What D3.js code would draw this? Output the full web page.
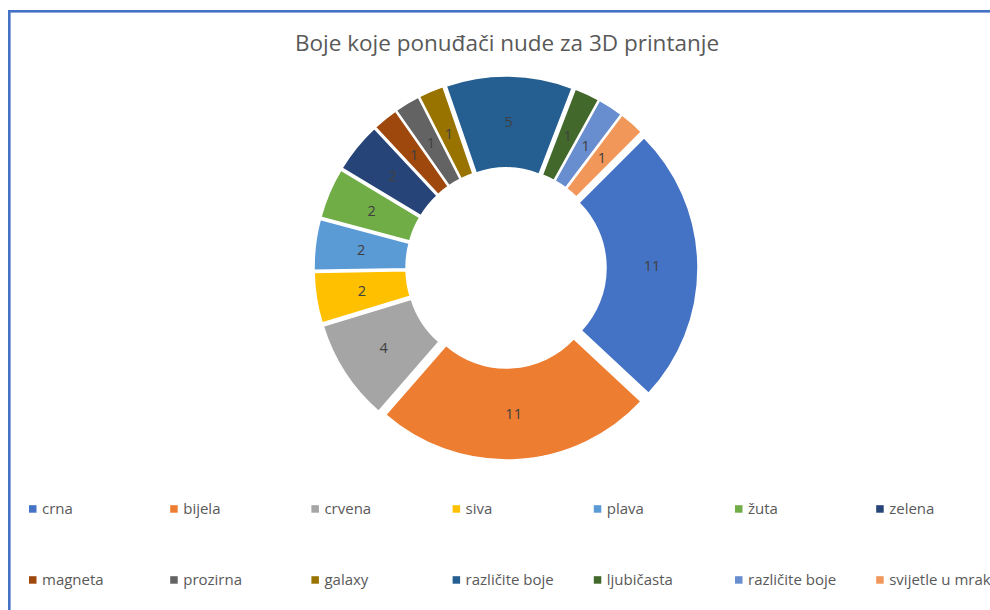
<!DOCTYPE html>
<html>
<head>
<meta charset="utf-8">
<script src="https://cdn.jsdelivr.net/npm/d3@7"></script>
<style>
  html, body { margin: 0; padding: 0; background: #fff; }
  svg { display: block; }
  text { font-family: "Open Sans", "Noto Sans", sans-serif; }
</style>
</head>
<body>
<svg id="chart" width="990" height="610"></svg>
<script>
// Colours offered by 3D-printing filament suppliers
const categories = [
  "crna", "bijela", "crvena", "siva", "plava", "žuta", "zelena",
  "magneta", "prozirna", "galaxy", "različite boje", "ljubičasta",
  "različite boje", "svijetle u mraku"
];
const values = [11, 11, 4, 2, 2, 2, 2, 1, 1, 1, 5, 1, 1, 1];
const titleText = "Boje koje ponuđači nude za 3D printanje";

// Office palette, one per slice
const palette = [
  "#4472C4", "#ED7D31", "#A5A5A5", "#FFC000", "#5B9BD5", "#70AD47", "#264478",
  "#9E480E", "#636363", "#997300", "#255E91", "#43682B", "#698ED0", "#F1975A"
];

const W = 990, H = 610;
const svg = d3.select("#chart");

// frame
svg.append("rect")
  .attr("x", 9.3).attr("y", 11.3)
  .attr("width", 1200).attr("height", 1000)
  .attr("fill", "none")
  .attr("stroke", "#4472C4")
  .attr("stroke-width", 2.6);

// title
svg.append("text")
  .attr("x", 507).attr("y", 51)
  .attr("text-anchor", "middle")
  .attr("fill", "#595959")
  .attr("font-size", 22.5)
  .text(titleText);

// donut
const cx = 506, cy = 268;
const outerR = 184, innerR = 92, explode = 8;
const data = categories.map((c, i) => ({ name: c, value: values[i], color: palette[i] }));

const pie = d3.pie()
  .value(d => d.value)
  .sort(null)
  .startAngle(Math.PI / 4)
  .endAngle(Math.PI / 4 + 2 * Math.PI);

const arc = d3.arc().innerRadius(innerR).outerRadius(outerR);
const colour = d3.scaleOrdinal().domain(d3.range(data.length)).range(palette);

const g = svg.append("g").attr("transform", `translate(${cx},${cy})`);
const arcs = pie(data);

const slice = g.selectAll("g.slice")
  .data(arcs)
  .join("g")
  .attr("class", "slice")
  .attr("transform", d => {
    const a = (d.startAngle + d.endAngle) / 2;
    return `translate(${explode * Math.sin(a)},${-explode * Math.cos(a)})`;
  });

slice.append("path")
  .attr("d", arc)
  .attr("fill", (d, i) => colour(i))
  .attr("stroke", "#fff")
  .attr("stroke-width", 1.5)
  .attr("stroke-linejoin", "round");

slice.append("text")
  .attr("transform", d => `translate(${arc.centroid(d)})`)
  .attr("text-anchor", "middle")
  .attr("dy", "0.35em")
  .attr("fill", "#404040")
  .attr("font-size", 14.5)
  .text(d => d.data.value);

// legend: two rows of seven
const perRow = 7;
const colX = d3.scaleLinear().domain([0, 1]).range([29, 170.2]);
const rowY = d3.scaleLinear().domain([0, 1]).range([509, 580]);

const item = svg.selectAll("g.legend")
  .data(data)
  .join("g")
  .attr("class", "legend")
  .attr("transform", (d, i) => `translate(${colX(i % perRow)},${rowY(Math.floor(i / perRow))})`);

item.append("rect")
  .attr("x", 0).attr("y", -3.8)
  .attr("width", 7.5).attr("height", 7.5)
  .attr("fill", (d, i) => colour(i));

item.append("text")
  .attr("x", 13).attr("dy", "0.35em")
  .attr("fill", "#595959")
  .attr("font-size", 15)
  .text(d => d.name);
</script>
</body>
</html>
